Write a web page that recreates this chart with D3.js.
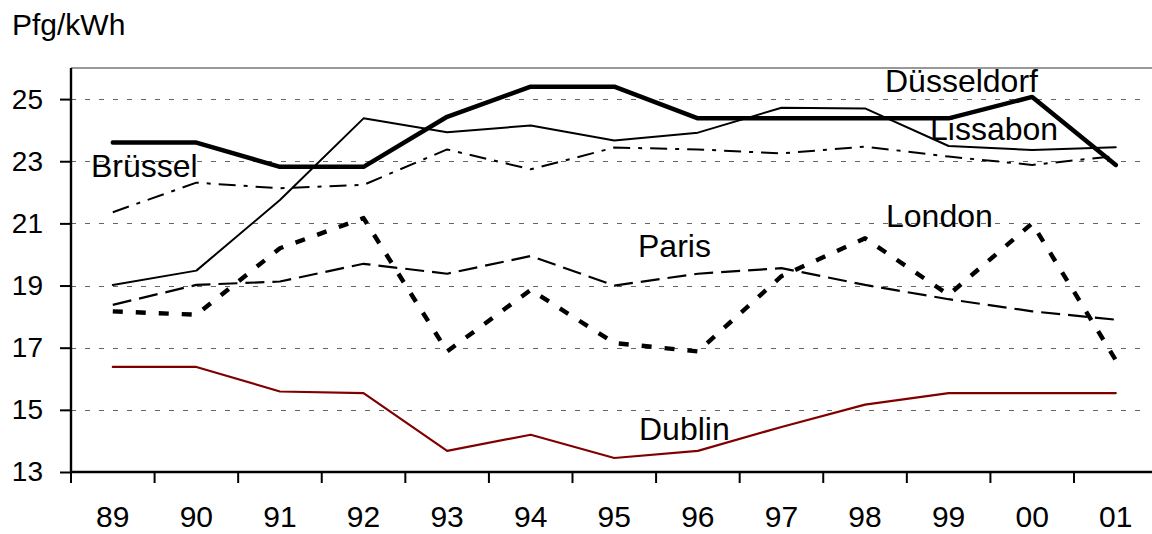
<!DOCTYPE html>
<html>
<head>
<meta charset="utf-8">
<script src="https://cdn.jsdelivr.net/npm/d3@7"></script>
<style>
  html, body { margin: 0; padding: 0; background: #fff; }
  svg { display: block; font-family: "Liberation Sans", Arial, sans-serif; }
</style>
</head>
<body>
<svg id="chart" width="1152" height="534"></svg>
<script>
const years = ["89","90","91","92","93","94","95","96","97","98","99","00","01"];
const yTicks = [13, 15, 17, 19, 21, 23, 25];
const unitLabel = "Pfg/kWh";

const duesseldorf = [23.6, 23.6, 22.82, 22.82, 24.43, 25.4, 25.4, 24.38, 24.38, 24.38, 24.38, 25.07, 22.88];
const lissabon    = [19.02, 19.48, 21.75, 24.38, 23.93, 24.15, 23.67, 23.92, 24.72, 24.7, 23.49, 23.36, 23.45];
const bruessel    = [21.36, 22.31, 22.13, 22.24, 23.38, 22.74, 23.44, 23.38, 23.25, 23.47, 23.15, 22.88, 23.17];
const paris       = [18.38, 19.02, 19.13, 19.7, 19.38, 19.95, 19.0, 19.38, 19.56, 19.02, 18.56, 18.17, 17.9];
const london      = [18.17, 18.06, 20.2, 21.17, 16.88, 18.86, 17.15, 16.88, 19.3, 20.52, 18.7, 21.0, 16.6];
const dublin      = [16.38, 16.38, 15.59, 15.54, 13.68, 14.2, 13.45, 13.68, 14.45, 15.17, 15.54, 15.54, 15.54];

const seriesNames = ["Düsseldorf", "Lissabon", "Brüssel", "Paris", "London", "Dublin"];

const series = [
  { name: "Düsseldorf", values: duesseldorf, color: "#000", width: 4.5, dash: null },
  { name: "Lissabon",   values: lissabon,    color: "#000", width: 2,   dash: null },
  { name: "Brüssel",    values: bruessel,    color: "#000", width: 2,   dash: "17,8,4,8" },
  { name: "Paris",      values: paris,       color: "#000", width: 2.2, dash: "19,8" },
  { name: "London",     values: london,      color: "#000", width: 4.4, dash: "10,13" },
  { name: "Dublin",     values: dublin,      color: "#800000", width: 2.2, dash: null }
];

const labels = [
  { text: "Düsseldorf", x: 885, y: 92 },
  { text: "Lissabon",   x: 930, y: 140 },
  { text: "Brüssel",    x: 91,  y: 177 },
  { text: "London",     x: 886, y: 227 },
  { text: "Paris",      x: 638, y: 257 },
  { text: "Dublin",     x: 639, y: 440 }
];

const svg = d3.select("#chart");
const padL = 71, padT = 68, axisY = 472;
const bandW = (1074 - 71) / 12;
const plotR = padL + bandW * years.length;

const x = d3.scaleBand().domain(years).range([padL, plotR]).padding(0);
const y = d3.scaleLinear().domain([13, 26]).range([axisY, padT]);

// gridlines
svg.append("g").selectAll("line")
  .data(yTicks.filter(v => v !== 13))
  .join("line")
  .attr("x1", padL).attr("x2", 1140)
  .attr("y1", d => Math.round(y(d)) + 0.5).attr("y2", d => Math.round(y(d)) + 0.5)
  .attr("stroke", "#666").attr("stroke-width", 1.2)
  .attr("stroke-dasharray", "5,9");

// top border
svg.append("line")
  .attr("x1", padL).attr("x2", 1152)
  .attr("y1", padT).attr("y2", padT)
  .attr("stroke", "#999").attr("stroke-width", 2);

// lines
const lineGen = d3.line()
  .x((d, i) => x(years[i]) + x.bandwidth() / 2)
  .y(d => y(d));

svg.append("g").selectAll("path")
  .data(series)
  .join("path")
  .attr("d", d => lineGen(d.values))
  .attr("fill", "none")
  .attr("stroke", d => d.color)
  .attr("stroke-width", d => d.width)
  .attr("stroke-dasharray", d => d.dash)
  .attr("stroke-linejoin", "round")
  .attr("stroke-linecap", d => d.dash ? "butt" : "round");

// y axis
const yAxis = d3.axisLeft(y).tickValues(yTicks).tickSize(11).tickPadding(17).tickFormat(d3.format("d"));
const gy = svg.append("g").attr("transform", `translate(${padL},0)`).call(yAxis);
gy.select(".domain").attr("stroke", "#000").attr("stroke-width", 2.4).attr("d", `M0,${padT}V${axisY + 1}`);
gy.selectAll(".tick line").attr("stroke", "#000").attr("stroke-width", 2);
gy.selectAll(".tick text").attr("font-size", 28).attr("fill", "#000")
  .attr("font-family", "'Liberation Sans', Arial, sans-serif");

// x axis: labels centered, ticks at band boundaries
const xAxis = d3.axisBottom(x).tickSize(0).tickPadding(34);
const gx = svg.append("g").attr("transform", `translate(0,${axisY})`).call(xAxis);
gx.select(".domain").attr("stroke", "#000").attr("stroke-width", 2.4).attr("d", `M${padL - 1},0H1152`);
gx.selectAll(".tick text").attr("font-size", 30).attr("fill", "#000")
  .attr("font-family", "'Liberation Sans', Arial, sans-serif");

gx.append("g").selectAll("line")
  .data(years)
  .join("line")
  .attr("x1", d => x(d)).attr("x2", d => x(d))
  .attr("y1", 0).attr("y2", 11)
  .attr("stroke", "#000").attr("stroke-width", 2);

// unit label
svg.append("text")
  .attr("x", 12).attr("y", 35)
  .attr("font-size", 30).attr("fill", "#000")
  .text(unitLabel);

// series labels
svg.append("g").selectAll("text")
  .data(labels)
  .join("text")
  .attr("x", d => d.x).attr("y", d => d.y)
  .attr("font-size", 32).attr("fill", "#000")
  .text(d => d.text);
</script>
</body>
</html>
